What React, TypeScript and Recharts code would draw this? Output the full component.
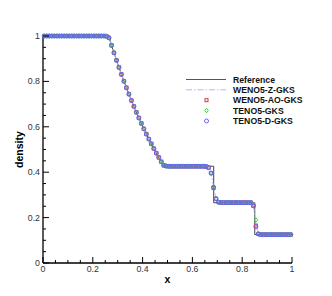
import { ComposedChart, Line, Scatter, XAxis, YAxis, Label } from "recharts";

// exact (reference) solution
const refX = [0, 0.2634, 0.275, 0.295, 0.315, 0.335, 0.355, 0.375, 0.395, 0.415, 0.435, 0.455, 0.475, 0.4859, 0.6855, 0.6855, 0.8504, 0.8504, 1];
const refRho = [1, 1, 0.9596, 0.8934, 0.8309, 0.7719, 0.7163, 0.664, 0.6147, 0.5684, 0.525, 0.4843, 0.4461, 0.4263, 0.4263, 0.2656, 0.2656, 0.125, 0.125];

// numerical results on 100 cells (cell centres 0.005 ... 0.995)
const cellCount = 100;
const baseRho = [
  1, 1, 1, 1, 1, 1, 1, 1, 1, 1, 1, 1, 1, 1, 1, 1, 1, 1, 1, 1, 1, 1, 1, 1, 1,
  0.999, 0.992, 0.959, 0.926, 0.893, 0.862, 0.831, 0.801, 0.772, 0.744, 0.716, 0.69,
  0.664, 0.639, 0.615, 0.591, 0.568, 0.546, 0.525, 0.504, 0.484, 0.465, 0.446, 0.43,
  0.427,
  0.426, 0.426, 0.426, 0.426, 0.426, 0.426, 0.426, 0.426, 0.426, 0.426, 0.426, 0.426, 0.426, 0.426, 0.426,
  0.425, 0.42, 0.396, 0.334, 0.283,
  0.268,
  0.266, 0.266, 0.266, 0.266, 0.266, 0.266, 0.266, 0.266, 0.266, 0.266, 0.266, 0.266, 0.266,
  0.252, 0.17, 0.128,
  0.125, 0.125, 0.125, 0.125, 0.125, 0.125, 0.125, 0.125, 0.125, 0.125, 0.125, 0.125, 0.125,
];
const wenoZFix: Record<number, number> = { 85: 0.175 };
const wenoAOFix: Record<number, number> = { 68: 0.33, 85: 0.165 };
const teno5Fix: Record<number, number> = { 84: 0.258, 85: 0.19 };
const teno5DFix: Record<number, number> = { 85: 0.16 };

const xTicks = [0, 0.05, 0.1, 0.15, 0.2, 0.25, 0.3, 0.35, 0.4, 0.45, 0.5, 0.55, 0.6, 0.65, 0.7, 0.75, 0.8, 0.85, 0.9, 0.95, 1];
const yTicks = [0, 0.05, 0.1, 0.15, 0.2, 0.25, 0.3, 0.35, 0.4, 0.45, 0.5, 0.55, 0.6, 0.65, 0.7, 0.75, 0.8, 0.85, 0.9, 0.95, 1];

const legendNames = ["Reference", "WENO5-Z-GKS", "WENO5-AO-GKS", "TENO5-GKS", "TENO5-D-GKS"];

const refData = refX.map((x, i) => ({ x, rho: refRho[i] }));
const scheme = (fix: Record<number, number>) =>
  baseRho.map((r, i) => ({ x: (i + 0.5) / cellCount, rho: fix[i] ?? r }));

const FONT = "'Liberation Sans', Arial, Helvetica, sans-serif";
const BLUE = "#6464ff";
const GREEN = "#3ccc3c";
const RED = "#d23c3c";
const ZCOL = "#b4b4ff";

const isMajor = (v: number) => Math.abs(v * 5 - Math.round(v * 5)) < 1e-6;

const XTick = (props: any) => {
  const { x, y, payload } = props;
  const major = isMajor(payload.value);
  return (
    <g>
      <line x1={x} x2={x} y1={y} y2={y - (major ? 6 : 3)} stroke="#000" strokeWidth={1} />
      {major && (
        <text x={x} y={y + 9} textAnchor="middle" fontSize={8.8} fill="#333" fontFamily={FONT}>
          {String(payload.value)}
        </text>
      )}
    </g>
  );
};

const YTick = (props: any) => {
  const { x, y, payload } = props;
  const major = isMajor(payload.value);
  return (
    <g>
      <line x1={x} x2={x + (major ? 6 : 3)} y1={y} y2={y} stroke="#000" strokeWidth={1} />
      {major && (
        <text x={x - 3} y={y + 3} textAnchor="end" fontSize={8.8} fill="#333" fontFamily={FONT}>
          {String(payload.value)}
        </text>
      )}
    </g>
  );
};

const Circle = (p: any) => <circle cx={p.cx} cy={p.cy} r={2} fill="none" stroke={BLUE} strokeWidth={1} />;
const Diamond = (p: any) => (
  <path d={`M${p.cx},${p.cy - 2.2}L${p.cx + 1.8},${p.cy}L${p.cx},${p.cy + 2.2}L${p.cx - 1.8},${p.cy}Z`} fill="none" stroke={GREEN} strokeWidth={1} />
);
const Square = (p: any) => <rect x={p.cx - 1.5} y={p.cy - 1.5} width={3} height={3} fill="none" stroke={RED} strokeWidth={1} />;

const LegendBox = () => {
  const rows = [79.5, 89.8, 100.2, 110.6, 121];
  return (
    <svg width={332} height={296} style={{ position: "absolute", left: 0, top: 0, pointerEvents: "none" }}>
      <line x1={186} x2={226} y1={rows[0]} y2={rows[0]} stroke="#555" strokeWidth={1} />
      <line x1={186} x2={226} y1={rows[1]} y2={rows[1]} stroke={ZCOL} strokeWidth={1} strokeDasharray="6 2 1.5 2" />
      <rect x={205} y={rows[2] - 1.5} width={3} height={3} fill="none" stroke={RED} strokeWidth={1} />
      <path d={`M206.5,${rows[3] - 2.2}L208.3,${rows[3]}L206.5,${rows[3] + 2.2}L204.7,${rows[3]}Z`} fill="none" stroke={GREEN} strokeWidth={1} />
      <circle cx={206.5} cy={rows[4]} r={2} fill="none" stroke={BLUE} strokeWidth={1} />
      {legendNames.map((n, i) => (
        <text key={n} x={233} y={rows[i] + 3.2} fontSize={8.7} fontWeight="bold" fontFamily={FONT} fill="#111">
          {n}
        </text>
      ))}
    </svg>
  );
};

export default function App() {
  return (
    <div style={{ position: "absolute", left: 0, top: 0, width: 332, height: 296, background: "#fff" }}>
      <ComposedChart width={332} height={296} margin={{ top: 36, right: 40, bottom: 5, left: 13 }}>
        <XAxis
          type="number"
          dataKey="x"
          domain={[0, 1]}
          ticks={xTicks}
          interval={0}
          height={28}
          tickSize={0}
          tickMargin={0}
          tick={<XTick />}
          axisLine={{ stroke: "#000", strokeWidth: 1.3 }}
          allowDuplicatedCategory={false}
        >
          <Label
            content={() => (
              <text x={167.5} y={283} textAnchor="middle" fontSize={10.5} fontWeight="bold" fontFamily={FONT}>
                x
              </text>
            )}
          />
        </XAxis>
        <YAxis
          type="number"
          domain={[0, 1]}
          ticks={yTicks}
          interval={0}
          width={30}
          tickSize={0}
          tickMargin={0}
          tick={<YTick />}
          axisLine={{ stroke: "#000", strokeWidth: 1.3 }}
        >
          <Label
            content={() => (
              <text x={23} y={149.5} transform="rotate(-90 23 149.5)" textAnchor="middle" fontSize={10.5} fontWeight="bold" fontFamily={FONT}>
                density
              </text>
            )}
          />
        </YAxis>
        <Line data={refData} dataKey="rho" type="linear" stroke="#444" strokeWidth={1} dot={false} isAnimationActive={false} />
        <Line data={scheme(wenoZFix)} dataKey="rho" type="linear" stroke={ZCOL} strokeWidth={1} strokeDasharray="6 2 1.5 2" dot={false} isAnimationActive={false} />
        <Scatter data={scheme(wenoAOFix)} dataKey="rho" shape={Square} isAnimationActive={false} />
        <Scatter data={scheme(teno5Fix)} dataKey="rho" shape={Diamond} isAnimationActive={false} />
        <Scatter data={scheme(teno5DFix)} dataKey="rho" shape={Circle} isAnimationActive={false} />
      </ComposedChart>
      <LegendBox />
    </div>
  );
}
